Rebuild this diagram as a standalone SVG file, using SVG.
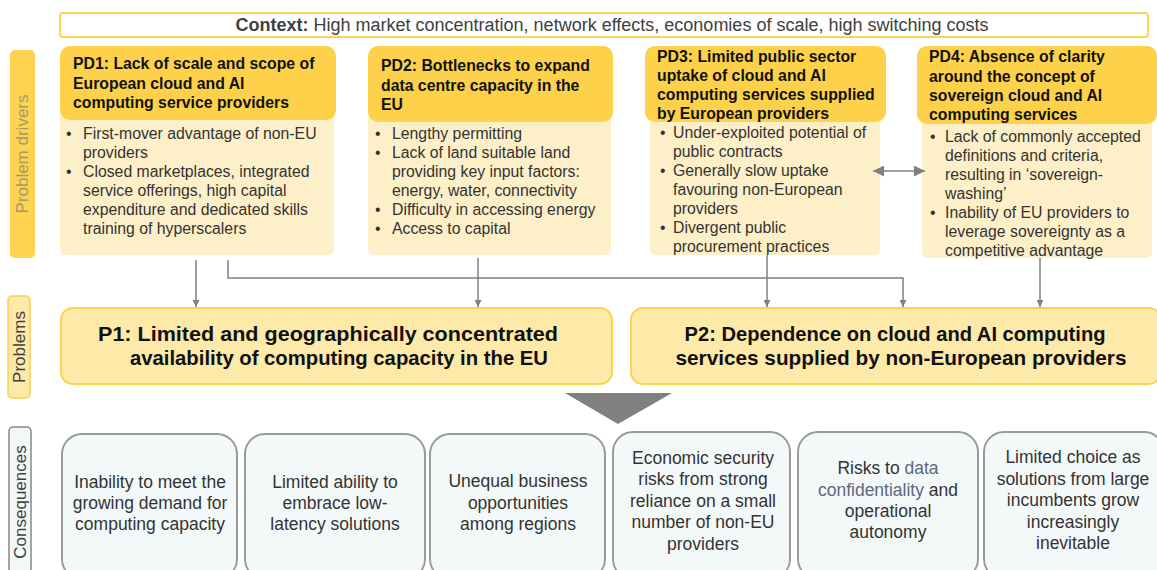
<svg xmlns="http://www.w3.org/2000/svg" width="1157" height="570" viewBox="0 0 1157 570">
<defs>
<style>
text{font-family:"Liberation Sans",Arial,sans-serif}
.hdr{fill:#fdd14a}
.body{fill:#fdf0c8}
.ht{font-size:15.8px;font-weight:bold;fill:#111}
.bt{font-size:15.8px;fill:#333}
.pb{fill:#fde9a8;stroke:#fcd34d;stroke-width:2}
.pt{font-size:20.5px;font-weight:bold;fill:#111;text-anchor:middle}
.cb{fill:#f3f8f9;stroke:#9a9a9a;stroke-width:2}
.ct{font-size:17.5px;fill:#333;text-anchor:middle}
.conn{stroke:#808080;stroke-width:1.5;fill:none}
.side{font-size:17px;text-anchor:middle}
</style>
<marker id="ah" viewBox="0 0 10 10" refX="10" refY="5" markerWidth="7" markerHeight="7" orient="auto-start-reverse" markerUnits="userSpaceOnUse">
<path d="M0,0 L10,5 L0,10 z" fill="#808080"/>
</marker>
<marker id="ahb" viewBox="0 0 10 10" refX="10" refY="5" markerWidth="11" markerHeight="11" orient="auto-start-reverse" markerUnits="userSpaceOnUse">
<path d="M0,0 L10,5 L0,10 z" fill="#808080"/>
</marker>
</defs>
<rect width="1157" height="570" fill="#fff"/>

<g id="context">
<rect x="60" y="13" width="1088" height="24" rx="3" fill="#fff" stroke="#fdd35a" stroke-width="2"/>
<text x="612" y="31" font-size="18" fill="#404040" text-anchor="middle"><tspan font-weight="bold">Context:</tspan> High market concentration, network effects, economies of scale, high switching costs</text>
</g>

<g id="label-drivers">
<rect x="10" y="50" width="25" height="208" rx="5" fill="#fdd34f"/>
<text class="side" transform="translate(28,154) rotate(-90)" fill="#a8976a">Problem drivers</text>
</g>
<g id="label-problems">
<rect x="8" y="296" width="22" height="102" rx="4" fill="#fde9a8" stroke="#fcd04a" stroke-width="1.5"/>
<text class="side" transform="translate(25,347) rotate(-90)" fill="#404040">Problems</text>
</g>
<g id="label-consequences">
<rect x="9" y="427" width="22" height="150" rx="4" fill="#f2f7f7" stroke="#888" stroke-width="1.5"/>
<text class="side" transform="translate(26,502) rotate(-90)" fill="#404040">Consequences</text>
</g>

<g id="pd1">
<rect class="body" x="60" y="110" width="274" height="145" rx="6"/>
<rect class="hdr" x="60" y="46" width="276" height="74" rx="10"/>
<text class="ht" x="73" y="69">PD1: Lack of scale and scope of</text>
<text class="ht" x="73" y="89">European cloud and AI</text>
<text class="ht" x="73" y="108">computing service providers</text>
<text class="bt" x="66" y="139">•</text><text class="bt" x="83" y="139">First-mover advantage of non-EU</text>
<text class="bt" x="83" y="158">providers</text>
<text class="bt" x="66" y="177">•</text><text class="bt" x="83" y="177">Closed marketplaces, integrated</text>
<text class="bt" x="83" y="196">service offerings, high capital</text>
<text class="bt" x="83" y="215">expenditure and dedicated skills</text>
<text class="bt" x="83" y="234">training of hyperscalers</text>
</g>

<g id="pd2">
<rect class="body" x="368" y="112" width="243" height="143" rx="6"/>
<rect class="hdr" x="368" y="46" width="245" height="76" rx="10"/>
<text class="ht" x="381" y="71">PD2: Bottlenecks to expand</text>
<text class="ht" x="381" y="91">data centre capacity in the</text>
<text class="ht" x="381" y="110">EU</text>
<text class="bt" x="375" y="139">•</text><text class="bt" x="392" y="139">Lengthy permitting</text>
<text class="bt" x="375" y="158">•</text><text class="bt" x="392" y="158">Lack of land suitable land</text>
<text class="bt" x="392" y="177">providing key input factors:</text>
<text class="bt" x="392" y="196">energy, water, connectivity</text>
<text class="bt" x="375" y="215">•</text><text class="bt" x="392" y="215">Difficulty in accessing energy</text>
<text class="bt" x="375" y="234">•</text><text class="bt" x="392" y="234">Access to capital</text>
</g>

<g id="pd3">
<rect class="body" x="650" y="112" width="230" height="143" rx="6"/>
<rect class="hdr" x="645" y="46" width="241" height="76" rx="10"/>
<text class="ht" x="657" y="62">PD3: Limited public sector</text>
<text class="ht" x="657" y="81">uptake of cloud and AI</text>
<text class="ht" x="657" y="100">computing services supplied</text>
<text class="ht" x="657" y="119">by European providers</text>
<text class="bt" x="660" y="138">•</text><text class="bt" x="673" y="138">Under-exploited potential of</text>
<text class="bt" x="673" y="157">public contracts</text>
<text class="bt" x="660" y="176">•</text><text class="bt" x="673" y="176">Generally slow uptake</text>
<text class="bt" x="673" y="195">favouring non-European</text>
<text class="bt" x="673" y="214">providers</text>
<text class="bt" x="660" y="233">•</text><text class="bt" x="673" y="233">Divergent public</text>
<text class="bt" x="673" y="252">procurement practices</text>
</g>

<g id="pd4">
<rect class="body" x="922" y="114" width="230" height="144" rx="6"/>
<rect class="hdr" x="917" y="46" width="240" height="78" rx="10"/>
<text class="ht" x="929" y="62">PD4: Absence of clarity</text>
<text class="ht" x="929" y="82">around the concept of</text>
<text class="ht" x="929" y="101">sovereign cloud and AI</text>
<text class="ht" x="929" y="120">computing services</text>
<text class="bt" x="930" y="142">•</text><text class="bt" x="945" y="142">Lack of commonly accepted</text>
<text class="bt" x="945" y="161">definitions and criteria,</text>
<text class="bt" x="945" y="180">resulting in ‘sovereign-</text>
<text class="bt" x="945" y="199">washing’</text>
<text class="bt" x="930" y="218">•</text><text class="bt" x="945" y="218">Inability of EU providers to</text>
<text class="bt" x="945" y="237">leverage sovereignty as a</text>
<text class="bt" x="945" y="256">competitive advantage</text>
</g>

<g id="p1">
<rect class="pb" x="61" y="308" width="551" height="76" rx="12"/>
<text class="pt" x="328" y="341" textLength="460" lengthAdjust="spacingAndGlyphs">P1: Limited and geographically concentrated</text>
<text class="pt" x="339" y="365" textLength="418" lengthAdjust="spacingAndGlyphs">availability of computing capacity in the EU</text>
</g>
<g id="p2">
<rect class="pb" x="631" y="308" width="530" height="76" rx="12"/>
<text class="pt" x="895" y="341" textLength="421" lengthAdjust="spacingAndGlyphs">P2: Dependence on cloud and AI computing</text>
<text class="pt" x="901" y="365" textLength="451" lengthAdjust="spacingAndGlyphs">services supplied by non-European providers</text>
</g>

<g id="big-arrow">
<polygon points="565,393 672,393 618,424" fill="#808080"/>
</g>

<g id="c1">
<rect class="cb" x="62" y="434" width="175" height="145" rx="20"/>
<text class="ct" x="150" y="488">Inability to meet the</text>
<text class="ct" x="150" y="509">growing demand for</text>
<text class="ct" x="150" y="530">computing capacity</text>
</g>
<g id="c2">
<rect class="cb" x="245" y="434" width="180" height="145" rx="20"/>
<text class="ct" x="335" y="488">Limited ability to</text>
<text class="ct" x="335" y="509">embrace low-</text>
<text class="ct" x="335" y="530">latency solutions</text>
</g>
<g id="c3">
<rect class="cb" x="430" y="434" width="175" height="145" rx="20"/>
<text class="ct" x="518" y="487">Unequal business</text>
<text class="ct" x="518" y="509">opportunities</text>
<text class="ct" x="518" y="530">among regions</text>
</g>
<g id="c4">
<rect class="cb" x="613" y="432" width="177" height="147" rx="20"/>
<text class="ct" x="703" y="464">Economic security</text>
<text class="ct" x="703" y="485">risks from strong</text>
<text class="ct" x="703" y="507">reliance on a small</text>
<text class="ct" x="703" y="528">number of non-EU</text>
<text class="ct" x="703" y="550">providers</text>
</g>
<g id="c5">
<rect class="cb" x="798" y="432" width="180" height="147" rx="20"/>
<text class="ct" x="888" y="474">Risks to <tspan fill="#5b6a7a">data</tspan></text>
<text class="ct" x="888" y="496"><tspan fill="#5b6a7a">confidentiality</tspan> and</text>
<text class="ct" x="888" y="517">operational</text>
<text class="ct" x="888" y="538">autonomy</text>
</g>
<g id="c6">
<rect class="cb" x="984" y="432" width="180" height="147" rx="20"/>
<text class="ct" x="1073" y="463">Limited choice as</text>
<text class="ct" x="1073" y="485">solutions from large</text>
<text class="ct" x="1073" y="506">incumbents grow</text>
<text class="ct" x="1073" y="528">increasingly</text>
<text class="ct" x="1073" y="549">inevitable</text>
</g>

<g id="connectors">
<line class="conn" x1="196" y1="260" x2="196" y2="307" marker-end="url(#ah)"/>
<polyline class="conn" points="228,260 228,278 903,278 903,307" marker-end="url(#ah)"/>
<line class="conn" x1="478" y1="258" x2="478" y2="307" marker-end="url(#ah)"/>
<line class="conn" x1="767" y1="255" x2="767" y2="307" marker-end="url(#ah)"/>
<line class="conn" x1="1040" y1="258" x2="1040" y2="307" marker-end="url(#ah)"/>
<line class="conn" x1="873" y1="171" x2="925" y2="171" marker-start="url(#ahb)" marker-end="url(#ahb)"/>
</g>
</svg>
